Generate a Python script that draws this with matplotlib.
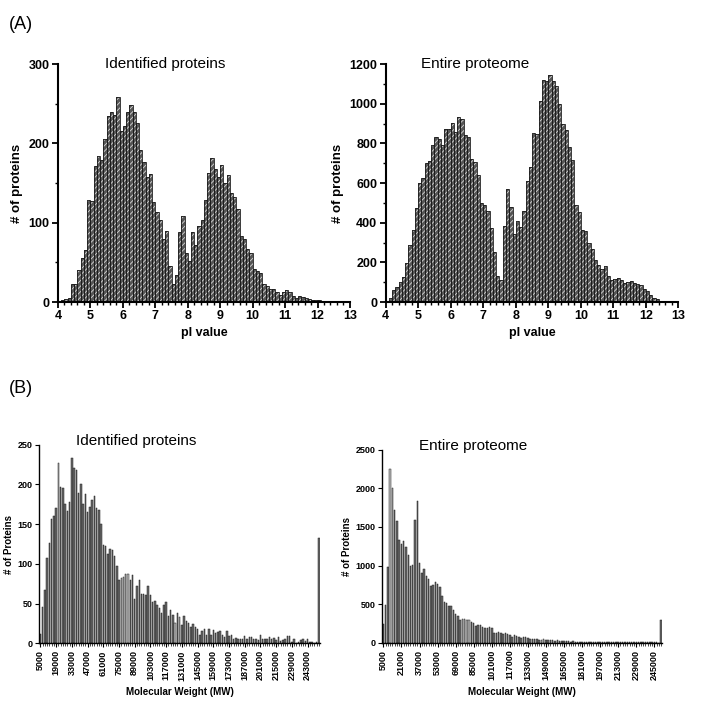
import numpy as np
import matplotlib
matplotlib.use("Agg")
import matplotlib.pyplot as plt
from matplotlib.ticker import MultipleLocator

plt.rcParams['font.family'] = ['Liberation Sans', 'DejaVu Sans']
plt.rcParams['hatch.linewidth'] = 0.6

# ---- pI histograms (bins of 0.1 starting at 4.0) ----
pi_start = 4.0
pi_width = 0.1
pi_identified = [0, 2, 4, 5, 23, 23, 40, 55, 65, 128,
                 127, 172, 184, 179, 205, 235, 239, 236, 258, 216,
                 222, 239, 248, 240, 226, 192, 176, 157, 162, 126,
                 114, 103, 79, 90, 46, 23, 34, 88, 108, 62,
                 52, 88, 72, 96, 104, 129, 163, 181, 168, 158,
                 173, 150, 160, 137, 133, 117, 83, 80, 67, 62,
                 41, 39, 37, 23, 20, 17, 16, 12, 9, 12,
                 15, 12, 8, 5, 7, 6, 5, 4, 3, 2,
                 2, 1, 1, 1, 0, 0, 0, 0, 0, 0]
pi_proteome = [0, 20, 60, 75, 100, 125, 195, 290, 365, 475,
               600, 625, 700, 710, 790, 830, 820, 790, 875, 875,
               905, 855, 932, 925, 840, 830, 720, 705, 640, 500,
               490, 460, 375, 250, 130, 110, 385, 570, 480, 345,
               410, 380, 460, 610, 680, 850, 845, 1015, 1120, 1115,
               1145, 1115, 1090, 1000, 900, 870, 780, 715, 490, 455,
               365, 360, 300, 265, 210, 185, 165, 180, 130, 110,
               115, 120, 110, 95, 100, 105, 95, 90, 85, 65,
               55, 35, 20, 15, 5, 0, 0, 0, 0, 0]

# ---- molecular weight bar charts (bins of 2000 Da) ----
mw_identified = [12, 46, 67, 108, 126, 157, 160, 171, 227, 197,
                 195, 175, 166, 178, 233, 221, 218, 189, 200, 175,
                 188, 165, 172, 180, 185, 170, 168, 150, 124, 123,
                 113, 119, 118, 110, 97, 80, 82, 83, 87, 87,
                 80, 86, 56, 72, 80, 62, 62, 61, 72, 61,
                 52, 53, 48, 45, 38, 48, 52, 34, 42, 36,
                 25, 38, 33, 23, 35, 28, 26, 20, 24, 20,
                 18, 11, 16, 18, 11, 18, 11, 17, 13, 14,
                 15, 10, 8, 15, 9, 10, 6, 7, 5, 6,
                 5, 9, 6, 8, 8, 6, 5, 4, 11, 5,
                 5, 5, 8, 5, 7, 4, 8, 3, 4, 6,
                 9, 9, 2, 6, 1, 2, 4, 5, 3, 5,
                 2, 2, 1, 2, 133]
mw_proteome = [240, 490, 975, 2250, 2000, 1720, 1575, 1330, 1275, 1320,
               1240, 1130, 1000, 1010, 1590, 1830, 1030, 900, 950, 860,
               820, 740, 750, 780, 760, 720, 600, 530, 515, 475,
               470, 420, 370, 340, 295, 310, 310, 290, 300, 265,
               260, 210, 225, 225, 200, 185, 185, 200, 185, 120,
               120, 135, 130, 110, 120, 115, 105, 75, 95, 85,
               80, 60, 70, 75, 55, 50, 45, 45, 45, 40,
               35, 45, 30, 40, 30, 30, 25, 30, 25, 20,
               20, 25, 20, 15, 20, 15, 15, 15, 12, 10,
               12, 8, 10, 8, 6, 12, 14, 8, 5, 10,
               6, 5, 12, 8, 6, 10, 5, 8, 12, 6,
               5, 10, 4, 8, 5, 4, 6, 3, 5, 4,
               3, 4, 2, 290]
mw_identified_bins = [5000 + 2000 * i for i in range(len(mw_identified))]
mw_proteome_bins = [5000 + 2000 * i for i in range(len(mw_proteome))]

fig = plt.figure(figsize=(7.07, 7.04), dpi=100)

def pi_panel(rect, counts, ymax, major, title, title_x):
    ax = fig.add_axes(rect)
    edges = pi_start + pi_width * np.arange(len(counts))
    # dark fill with a light diagonal texture, then black outlines on top
    ax.bar(edges, counts, width=pi_width, align='edge', color='#555555',
           edgecolor='#d8d8d8', linewidth=0, hatch='//////')
    ax.bar(edges, counts, width=pi_width, align='edge', fill=False,
           edgecolor='#1a1a1a', linewidth=0.6)
    ax.set_xlim(4, 13)
    ax.set_ylim(0, ymax)
    ax.spines['top'].set_visible(False)
    ax.spines['right'].set_visible(False)
    for s in ('left', 'bottom'):
        ax.spines[s].set_linewidth(1.5)
    ax.xaxis.set_major_locator(MultipleLocator(1))
    ax.xaxis.set_minor_locator(MultipleLocator(0.2))
    ax.yaxis.set_major_locator(MultipleLocator(major))
    ax.yaxis.set_minor_locator(MultipleLocator(major / 2))
    ax.tick_params(which='major', direction='out', length=4, width=1.3,
                   labelsize=9, pad=2)
    ax.tick_params(which='minor', direction='out', length=2.5, width=1)
    for lbl in ax.get_xticklabels() + ax.get_yticklabels():
        lbl.set_fontweight('bold')
    ax.set_xlabel('pI value', fontsize=9, fontweight='bold', labelpad=3)
    ax.set_ylabel('# of proteins', fontsize=9.5, fontweight='bold', labelpad=4)
    ax.text(title_x, 1.0, title, transform=ax.transAxes, fontsize=11,
            ha='left', va='center')
    return ax

pi_panel([0.082, 0.571, 0.413, 0.338], pi_identified, 300, 100,
         'Identified proteins', 0.16)
pi_panel([0.5455, 0.571, 0.414, 0.338], pi_proteome, 1200, 200,
         'Entire proteome', 0.12)

def mw_panel(rect, bins, counts, ymax, major, step, title, title_x, light):
    ax = fig.add_axes(rect)
    x = np.arange(len(counts))
    colors = ['#bdbdbd' if i in light else '#6a6a6a' for i in x]
    ax.bar(x, counts, width=0.65, color=colors, edgecolor='#1e1e1e',
           linewidth=0.35)
    ax.set_xlim(-0.5, len(counts) - 0.5)
    ax.set_ylim(0, ymax)
    ax.spines['top'].set_visible(False)
    ax.spines['right'].set_visible(False)
    for s in ('left', 'bottom'):
        ax.spines[s].set_linewidth(1.0)
    ax.set_xticks(x[::step])
    ax.set_xticklabels([str(b) for b in bins[::step]], rotation=90)
    ax.set_xticks(x, minor=True)
    ax.yaxis.set_major_locator(MultipleLocator(major))
    ax.tick_params(which='major', direction='out', length=3, width=0.8,
                   labelsize=6.5, pad=2)
    ax.tick_params(which='minor', direction='out', length=2, width=0.5)
    for lbl in ax.get_xticklabels() + ax.get_yticklabels():
        lbl.set_fontweight('bold')
    ax.set_xlabel('Molecular Weight (MW)', fontsize=7, fontweight='bold',
                  labelpad=5)
    ax.set_ylabel('# of Proteins', fontsize=7, fontweight='bold', labelpad=2)
    ax.text(title_x, 1.02, title, transform=ax.transAxes, fontsize=11,
            ha='left', va='center')
    return ax

mw_panel([0.0556, 0.0862, 0.397, 0.282], mw_identified_bins, mw_identified,
         250, 50, 7, 'Identified proteins', 0.13, {8, 36, 37, 38, 39, 60, 62})
mw_panel([0.5407, 0.0871, 0.396, 0.274], mw_proteome_bins, mw_proteome,
         2500, 500, 8, 'Entire proteome', 0.13, {3, 4, 35, 36, 37, 38, 70, 71})

fig.text(0.013, 0.965, '(A)', fontsize=13, ha='left', va='center')
fig.text(0.013, 0.448, '(B)', fontsize=13, ha='left', va='center')

fig.savefig('out.png', dpi=100)
